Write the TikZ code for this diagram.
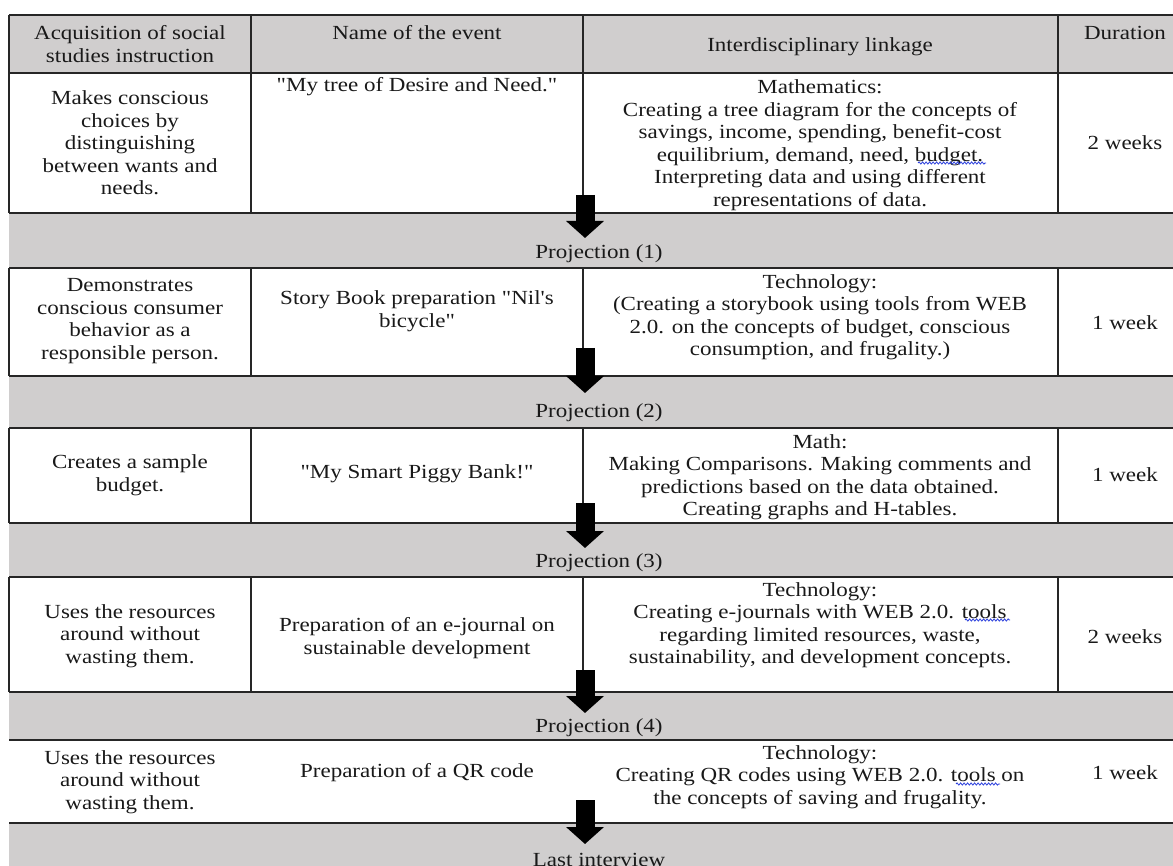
\documentclass[tikz,border=0pt]{standalone}
\usepackage{fontspec}
\setmainfont[FakeStretch=1.15,Ligatures=TeXOff]{Liberation Serif}
\usetikzlibrary{arrows.meta,decorations.pathmorphing}
\definecolor{bandgray}{RGB}{208,206,206}
\definecolor{spellblue}{RGB}{40,60,220}
\begin{document}
\begin{tikzpicture}[x=1pt,y=-1pt,
  cell/.style={inner sep=0pt, align=center, text=black!90, font=\fontsize{20}{22.5}\selectfont},
  grid/.style={line width=1.3pt, draw=black!85},
  flow/.style={line width=19pt, draw=black, -{Triangle[width=37pt,length=17pt]}},
  spell/.style={draw=spellblue, line width=0.8pt, decorate, decoration={snake, amplitude=1.1pt, segment length=3.5pt}},
]
\useasboundingbox (0,0) rectangle (1173,866);
% grey fills: header and bands
\fill[bandgray] (9,15) rectangle (1190,73);
\fill[bandgray] (9,213) rectangle (1190,268);
\fill[bandgray] (9,376) rectangle (1190,428);
\fill[bandgray] (9,523) rectangle (1190,577);
\fill[bandgray] (9,692) rectangle (1190,740);
\fill[bandgray] (9,823) rectangle (1190,870);
% horizontal rules
\foreach \y in {15,73,213,268,376,428,523,577,692,740,823}
  \draw[grid] (9,\y) -- (1190,\y);
% vertical rules (rows with borders)
\foreach \a/\b in {15/213,268/376,428/523,577/692}
  \foreach \x in {9,251,583,1058}
    \draw[grid] (\x,\a) -- (\x,\b);
% header
\node[cell] (h1) at (130,44) {Acquisition of social\\studies instruction};
\node[cell] (h2) at (417,33) {Name of the event};
\node[cell] (h3) at (820,47) {Interdisciplinary linkage};
\node[cell] (h4) at (1125,33) {Duration};
% row 1
\node[cell] (c11) at (130,143) {Makes conscious\\choices by\\distinguishing\\between wants and\\needs.};
\node[cell] (c12) at (417,87) {"My tree of Desire and Need."};
\node[cell] (c13) at (820,145) {Mathematics:\\Creating a tree diagram for the concepts of\\savings, income, spending, benefit-cost\\equilibrium, demand, need, budget.\\Interpreting data and using different\\representations of data.};
\node[cell] (c14) at (1125,143) {2 weeks};
\node[cell] (p1) at (599,254) {Projection (1)};
% row 2
\node[cell] (c21) at (130,321) {Demonstrates\\conscious consumer\\behavior as a\\responsible person.};
\node[cell] (c22) at (417,311) {Story Book preparation "Nil's\\bicycle"};
\node[cell] (c23) at (820,317) {Technology:\\(Creating a storybook using tools from WEB\\2.0. on the concepts of budget, conscious\\consumption, and frugality.)};
\node[cell] (c24) at (1125,323) {1 week};
\node[cell] (p2) at (599,413) {Projection (2)};
% row 3
\node[cell] (c31) at (130,475) {Creates a sample\\budget.};
\node[cell] (c32) at (417,474) {"My Smart Piggy Bank!"};
\node[cell] (c33) at (820,477) {Math:\\Making Comparisons. Making comments and\\predictions based on the data obtained.\\Creating graphs and H-tables.};
\node[cell] (c34) at (1125,475) {1 week};
\node[cell] (p3) at (599,563) {Projection (3)};
% row 4
\node[cell] (c41) at (130,636) {Uses the resources\\around without\\wasting them.};
\node[cell] (c42) at (417,638) {Preparation of an e-journal on\\sustainable development};
\node[cell] (c43) at (820,625) {Technology:\\Creating e-journals with WEB 2.0. tools\\regarding limited resources, waste,\\sustainability, and development concepts.};
\node[cell] (c44) at (1125,637) {2 weeks};
\node[cell] (p4) at (599,728) {Projection (4)};
% row 5
\node[cell] (c51) at (130,782) {Uses the resources\\around without\\wasting them.};
\node[cell] (c52) at (417,773) {Preparation of a QR code};
\node[cell] (c53) at (820,777) {Technology:\\Creating QR codes using WEB 2.0. tools on\\the concepts of saving and frugality.};
\node[cell] (c54) at (1125,773) {1 week};
\node[cell] (p5) at (599,860) {Last interview};
% spell-check underlines
\draw[spell] (918,163) -- (986,163);
\draw[spell] (965,620) -- (1010,620);
\draw[spell] (956,784) -- (1000,784);
% arrows
\coordinate (a1s) at (585,195); \coordinate (a1e) at (585,238);
\coordinate (a2s) at (585,348); \coordinate (a2e) at (585,393);
\coordinate (a3s) at (585,503); \coordinate (a3e) at (585,548);
\coordinate (a4s) at (585,670); \coordinate (a4e) at (585,713);
\coordinate (a5s) at (585,800); \coordinate (a5e) at (585,844);
\foreach \i in {1,...,5}
  \draw[flow] (a\i s) -- (a\i e);
\end{tikzpicture}
\end{document}
